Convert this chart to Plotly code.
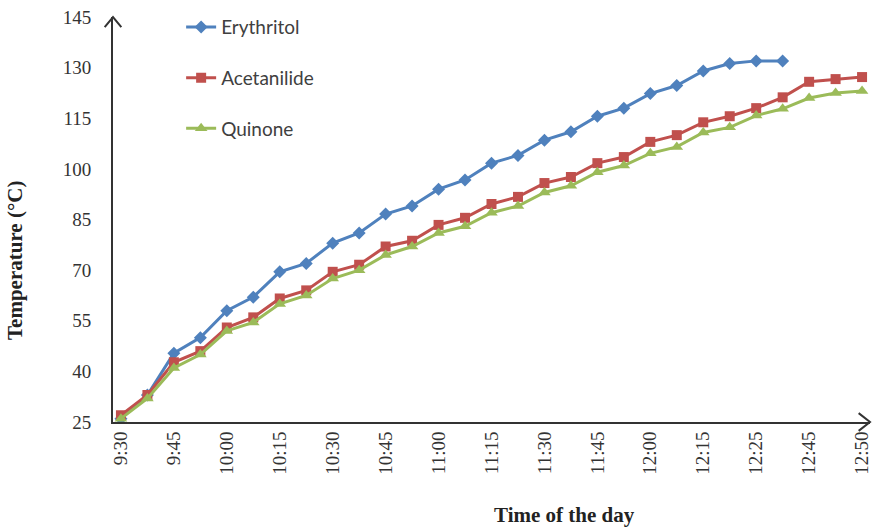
import plotly.graph_objects as go

times = ["9:30", "9:37", "9:45", "9:52", "10:00", "10:07", "10:15", "10:22", "10:30", "10:37",
         "10:45", "10:52", "11:00", "11:07", "11:15", "11:22", "11:30", "11:37", "11:45", "11:52",
         "12:00", "12:07", "12:15", "12:20", "12:25", "12:35", "12:45", "12:47", "12:50"]

erythritol = [26, 33, 45.4, 50, 58, 62, 69.5, 72, 78, 81, 86.6, 89, 94, 96.7, 101.7, 104,
              108.5, 111, 115.6, 118, 122.3, 124.7, 129, 131.2, 132, 132]
acetanilide = [27, 33, 42.7, 46, 53, 56, 61.6, 64, 69.5, 71.6, 77, 78.7, 83.4, 85.5, 89.6, 91.7,
               95.8, 97.6, 101.7, 103.5, 108, 110, 113.8, 115.6, 118, 121.2, 125.8, 126.6, 127.2]
quinone = [26, 32, 41, 45, 52, 54.5, 60, 62.5, 67.5, 70, 74.5, 77, 81, 83, 87, 89, 93, 95, 99,
           101, 104.6, 106.5, 110.8, 112.3, 115.8, 117.8, 121, 122.5, 123.1]

y_ticks = [25, 40, 55, 70, 85, 100, 115, 130, 145]

idx = list(range(len(times)))

fig = go.Figure()
series = [
    ("Erythritol", erythritol, "#4F81BD", "diamond", 10),
    ("Acetanilide", acetanilide, "#C0504D", "square", 10),
    ("Quinone", quinone, "#9BBB59", "triangle-up", 11),
]
for name, vals, col, sym, sz in series:
    fig.add_trace(go.Scatter(
        x=idx[:len(vals)], y=vals, name=name, mode="lines+markers",
        line=dict(color=col, width=3),
        marker=dict(symbol=sym, size=sz, color=col),
        legendgroup=name,
    ))

fig.update_layout(
    width=879, height=528,
    margin=dict(l=113, r=7, t=15, b=106),
    plot_bgcolor="white", paper_bgcolor="white",
    showlegend=True,
    legend=dict(x=0.09, y=1.022, xanchor="left", yanchor="top",
                font=dict(family="Lato", size=19, color="#404040"),
                bgcolor="rgba(0,0,0,0)", tracegroupgap=23),
    xaxis=dict(
        range=[-0.3, 28.3], tickmode="array", tickvals=idx[::2], ticktext=times[::2],
        tickangle=-90, showgrid=False, zeroline=False,
        showline=True, linecolor="#333333", linewidth=2, ticks="",
        tickfont=dict(family="Liberation Serif", size=19, color="#333333"),
    ),
    yaxis=dict(
        range=[25, 145], tickmode="array", tickvals=y_ticks,
        showgrid=False, zeroline=False,
        showline=True, linecolor="#333333", linewidth=2, ticks="",
        tickfont=dict(family="Liberation Serif", size=19, color="#333333"),
        ticklabelstandoff=16,
    ),
    annotations=[
        dict(text="<b>Time of the day</b>", xref="paper", yref="paper", x=0.597, y=-0.195,
             yanchor="top", showarrow=False,
             font=dict(family="Liberation Serif", size=21, color="#222222")),
        dict(text="<b>Temperature (°C)</b>", xref="paper", yref="paper", x=-0.148, y=0.4,
             textangle=-90, showarrow=False,
             font=dict(family="Liberation Serif", size=21, color="#222222")),
    ],
    shapes=[
        dict(type="path", xref="paper", yref="paper",
             path="M -0.011,0.975 L 0,1.0 L 0.011,0.975",
             line=dict(color="#333333", width=2)),
        dict(type="path", xref="paper", yref="paper",
             path="M 0.985,0.022 L 1.0,0 L 0.985,-0.022",
             line=dict(color="#333333", width=2)),
    ],
)

fig.write_html("out.html")
